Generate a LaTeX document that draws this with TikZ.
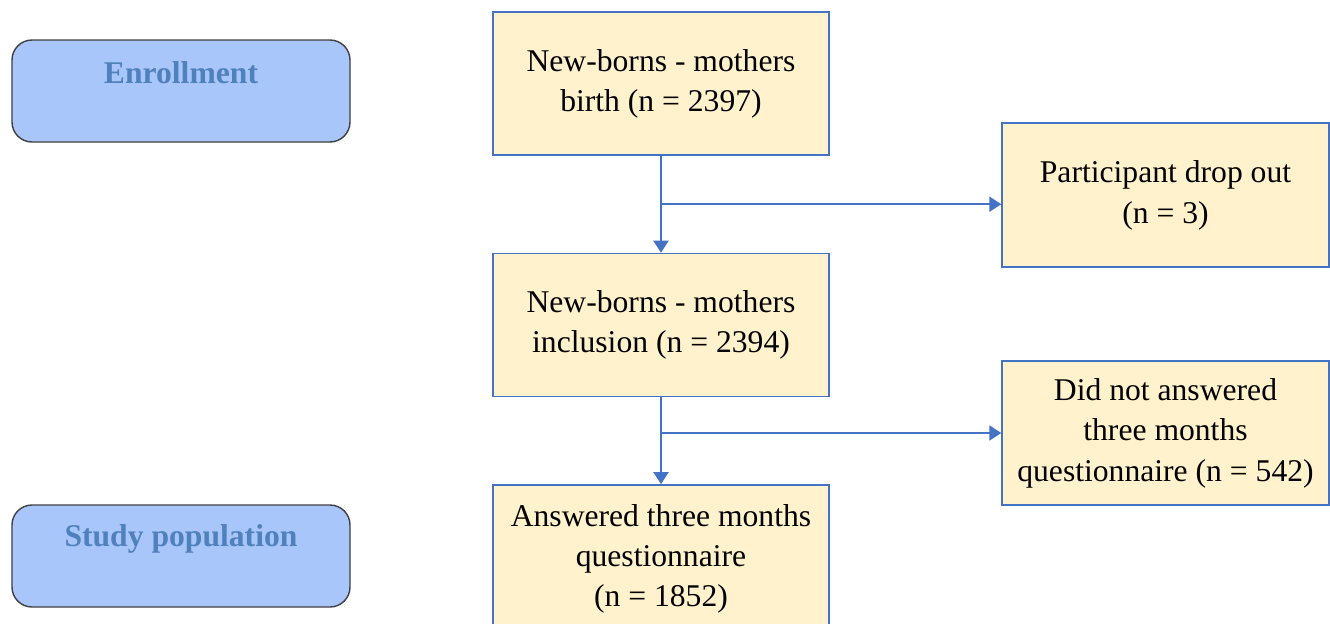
\documentclass[tikz,border=0pt]{standalone}
\usepackage{fontspec}
\setmainfont{Liberation Serif}
\usepackage{xcolor}
\usetikzlibrary{calc}
\usetikzlibrary{positioning}
\usetikzlibrary{arrows.meta}
\definecolor{phasefill}{RGB}{169,198,250}
\definecolor{phasetext}{RGB}{79,129,189}
\definecolor{boxfill}{RGB}{255,242,204}
\definecolor{boxline}{RGB}{68,114,196}

\begin{document}
\begin{tikzpicture}[font=\fontsize{18}{22.8}\selectfont]
    \tikzstyle{phase}=[draw=black!75,line width=0.8pt,rectangle,rounded corners=0.4cm,fill=phasefill,minimum width=6.76cm,minimum height=2.04cm,inner sep=0pt]
    \tikzstyle{phaselabel}=[text=phasetext,font=\fontsize{18}{22.8}\selectfont\bfseries]
    \tikzstyle{block}=[draw=boxline,line width=0.8pt,rectangle,fill=boxfill,minimum width=6.72cm,minimum height=2.86cm,inner sep=0pt,align=center,text depth=0.12cm]
    \tikzstyle{sideblock}=[block,minimum width=6.54cm,minimum height=2.88cm]
    \tikzstyle{flow}=[draw=boxline,line width=1.2pt,-{Triangle[width=0.3cm,length=0.24cm]}]

    \clip (0,0) rectangle (26.6,-12.46);

    \node[phase] (enroll) at (3.62,-1.82) {};
    \node[phase] (study) at (3.62,-11.12) {};
    \node[phaselabel] at ([yshift=-0.66cm]enroll.north) {Enrollment};
    \node[phaselabel] at ([yshift=-0.7cm]study.north) {Study population};

    \node[block] (birth) at (13.22,-1.67) {New-borns - mothers\\birth (n = 2397)};
    \node[block, below=1.94cm of birth] (incl) {New-borns - mothers\\inclusion (n = 2394)};
    \node[block, below=1.74cm of incl, minimum height=2.96cm] (answer) {Answered three months\\questionnaire\\(n = 1852)};

    \node[sideblock] (drop) at (23.31,-3.9) {Participant drop out\\(n = 3)};
    \node[sideblock] (noanswer) at (23.31,-8.66) {Did not answered\\three months\\questionnaire (n = 542)};

    \coordinate (split1) at ($(birth.south)!0.5!(incl.north)$);
    \coordinate (split2) at (noanswer.west -| incl.south);

    \draw[flow] (birth) -- (incl);
    \draw[flow] (split1) -- (split1 -| drop.west);
    \draw[flow] (incl) -- (answer);
    \draw[flow] (split2) -- (noanswer.west);
\end{tikzpicture}
\end{document}
